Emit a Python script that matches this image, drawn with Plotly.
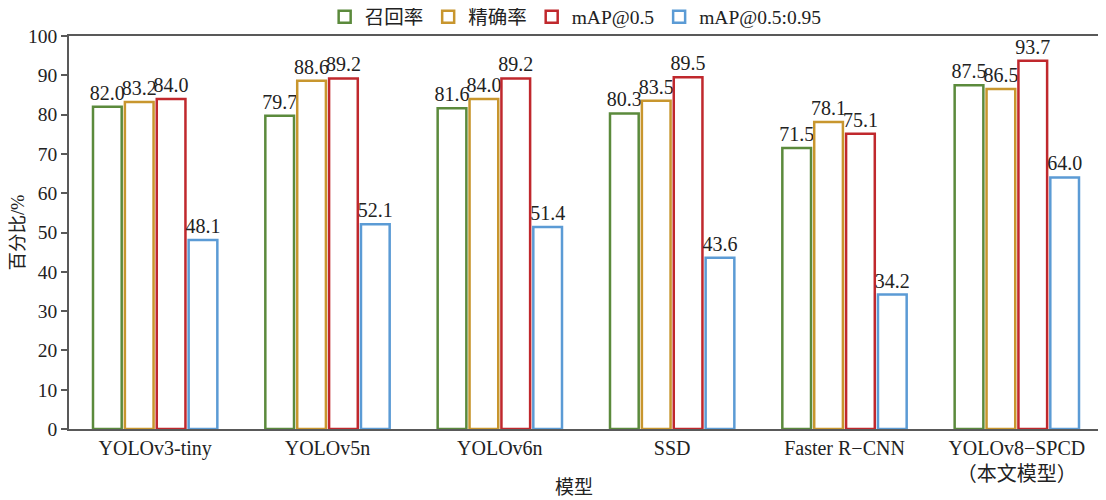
import plotly.graph_objects as go

categories = ["YOLOv3-tiny", "YOLOv5n", "YOLOv6n", "SSD", "Faster R−CNN", "YOLOv8−SPCD<br>（本文模型）"]
series_names = ["召回率", "精确率", "mAP@0.5", "mAP@0.5:0.95"]
recall = [82.0, 79.7, 81.6, 80.3, 71.5, 87.5]
precision = [83.2, 88.6, 84.0, 83.5, 78.1, 86.5]
map50 = [84.0, 89.2, 89.2, 89.5, 75.1, 93.7]
map5095 = [48.1, 52.1, 51.4, 43.6, 34.2, 64.0]
colors = ["#5B8A3C", "#C8962E", "#C0282D", "#5B9BD5"]

SERIF = "Liberation Serif, Times New Roman, Noto Sans CJK SC, serif"

fig = go.Figure()
for name, vals, c in zip(series_names, [recall, precision, map50, map5095], colors):
    fig.add_trace(go.Bar(
        x=categories, y=vals, name=name,
        marker=dict(color="white", line=dict(color=c, width=2.5)),
        text=[f"{v:.1f}" for v in vals], textposition="outside",
        textfont=dict(family=SERIF, size=20, color="#222"),
        constraintext="none", cliponaxis=False,
    ))

# page body has an 8px default margin; figure is sized to fit the 1106x500 window
fig.update_layout(
    width=1098, height=492,
    margin=dict(l=61, r=3, t=28, b=71, autoexpand=False),
    paper_bgcolor="white", plot_bgcolor="white",
    barmode="group", bargap=0.26, bargroupgap=0.1,
    font=dict(family=SERIF, size=20, color="#222"),
    legend=dict(orientation="h", x=0.49, xanchor="center", y=1.048, yanchor="middle",
                bgcolor="rgba(0,0,0,0)", itemwidth=30,
                font=dict(family=SERIF, size=19.5), traceorder="normal"),
    xaxis=dict(showline=True, linecolor="#595959", linewidth=1.5, mirror=True,
               ticks="", tickfont=dict(size=20), automargin=False),
    yaxis=dict(title=dict(text="百分比/%", font=dict(size=18.5), standoff=10),
               range=[0, 100], dtick=10, showgrid=False, zeroline=False,
               showline=True, linecolor="#595959", linewidth=1.5, mirror=True,
               ticks="outside", ticklen=6, tickcolor="#595959", tickwidth=1.5,
               tickfont=dict(size=19.5), automargin=False),
    annotations=[dict(text="模型", xref="paper", yref="paper", x=0.488, y=-0.15,
                      yanchor="middle", showarrow=False, font=dict(size=19))],
)
fig.write_html("out.html")
